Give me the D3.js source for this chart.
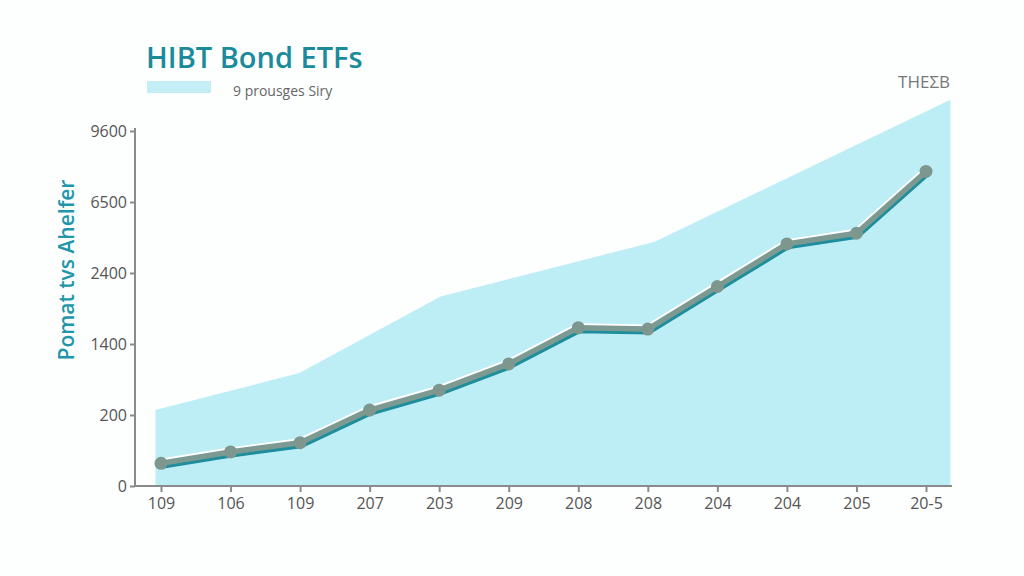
<!DOCTYPE html>
<html lang="en">
<head>
<meta charset="UTF-8">
<title>HIBT Bond ETFs</title>
<style>
    body {
        margin: 0;
        background: #fdfefe;
        font-family: "Open Sans", sans-serif;
    }
    .tick text {
        fill: #555;
        font-size: 16px;
        font-family: "Open Sans", sans-serif;
    }
    .domain, .tick line {
        stroke: #8a8a8a;
        stroke-width: 2;
    }
</style>
</head>
<body>
<svg width="1024" height="576"></svg>
<script src="https://d3js.org/d3.v7.min.js"></script>
<script>
// category labels along x and the (oddly ordered) y tick labels
const xLabels = ["109", "106", "109", "207", "203", "209", "208", "208", "204", "204", "205", "20-5"];
const yLabels = ["0", "200", "1400", "2400", "6500", "9600"];

// line series, in y-tick units (0 = "0", 5 = "9600")
const lineValues = [0.32, 0.48, 0.61, 1.07, 1.35, 1.72, 2.23, 2.21, 2.81, 3.41, 3.56, 4.43];

// background area: position in category index, value in y-tick units
const areaIndex = [-0.08, 1.99, 4.02, 7.10, 11.35];
const areaValues = [1.07, 1.59, 2.67, 3.44, 5.44];

const svg = d3.select("svg");

const x = d3.scaleLinear().domain([0, 11]).range([161, 926]);
const y = d3.scaleLinear().domain([0, 5]).range([486, 131]);

// area
const area = d3.area()
    .x(d => x(d[0]))
    .y0(y(0))
    .y1(d => y(d[1]));

svg.append("path")
    .datum(d3.zip(areaIndex, areaValues))
    .attr("fill", "#bdeef6")
    .attr("d", area);

// axes
svg.append("g")
    .attr("transform", `translate(0,${y(0)})`)
    .call(d3.axisBottom(x)
        .tickValues(d3.range(xLabels.length))
        .tickFormat(i => xLabels[i])
        .tickSize(6)
        .tickSizeOuter(0)
        .tickPadding(6))
    .call(g => g.select(".domain").attr("d", `M135,0H952`));

svg.append("g")
    .attr("transform", "translate(135,0)")
    .call(d3.axisLeft(y)
        .tickValues(d3.range(yLabels.length))
        .tickFormat(i => yLabels[i])
        .tickSize(5)
        .tickSizeOuter(0)
        .tickPadding(3))
    .call(g => g.select(".domain").attr("d", `M0,128V${y(0)}`));

// line: teal shadow, white highlight, grey-green stroke
const line = d3.line()
    .x((d, i) => x(i))
    .y(d => y(d));

svg.append("path")
    .datum(lineValues)
    .attr("fill", "none")
    .attr("stroke", "#1e8d9c")
    .attr("stroke-width", 5)
    .attr("stroke-linejoin", "round")
    .attr("transform", "translate(1,3)")
    .attr("d", line);

svg.append("path")
    .datum(lineValues)
    .attr("fill", "none")
    .attr("stroke", "#ffffff")
    .attr("stroke-width", 4)
    .attr("stroke-linejoin", "round")
    .attr("transform", "translate(-1,-2.5)")
    .attr("d", line);

svg.append("path")
    .datum(lineValues)
    .attr("fill", "none")
    .attr("stroke", "#7c9a92")
    .attr("stroke-width", 5.5)
    .attr("stroke-linejoin", "round")
    .attr("d", line);

svg.append("g")
    .selectAll("circle")
    .data(lineValues)
    .join("circle")
    .attr("cx", (d, i) => x(i))
    .attr("cy", d => y(d))
    .attr("r", 6.5)
    .attr("fill", "#7d978f");

// title, legend, labels
svg.append("text")
    .attr("x", 146)
    .attr("y", 68)
    .attr("fill", "#1b8a9b")
    .style("font-size", "29px")
    .style("font-weight", 600)
    .text("HIBT Bond ETFs");

svg.append("rect")
    .attr("x", 147)
    .attr("y", 81)
    .attr("width", 64)
    .attr("height", 12)
    .attr("fill", "#c4eef5");

svg.append("text")
    .attr("x", 233)
    .attr("y", 96)
    .attr("fill", "#666")
    .style("font-size", "14px")
    .text("9 prousges Siry");

svg.append("text")
    .attr("x", 950)
    .attr("y", 88)
    .attr("text-anchor", "end")
    .attr("fill", "#777")
    .style("font-size", "17px")
    .text("THEΣB");

svg.append("text")
    .attr("transform", "translate(74,270) rotate(-90)")
    .attr("text-anchor", "middle")
    .attr("fill", "#2196ab")
    .style("font-size", "21px")
    .style("font-weight", 600)
    .text("Pomat tvs Ahelfer");
</script>
</body>
</html>
